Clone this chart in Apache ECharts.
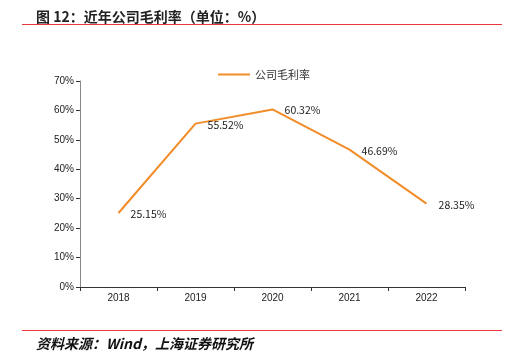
<!DOCTYPE html>
<html><head><meta charset="utf-8">
<script src="https://cdn.jsdelivr.net/npm/echarts@6/dist/echarts.min.js"></script>
<style>html,body{margin:0;padding:0;background:#fff}#c{width:513px;height:358px}</style>
</head><body><div id="c"></div>
<script>
var categories = ['2018','2019','2020','2021','2022'];
var grossMargin = [25.15, 55.52, 60.32, 46.69, 28.35];
var seriesName = '公司毛利率';
var titleText = '图 12：近年公司毛利率（单位：%）';
var sourceText = '资料来源：Wind，上海证券研究所';

var chart = echarts.init(document.getElementById('c'), null, {renderer:'canvas'});
chart.setOption({
  animation:false,
  backgroundColor:'#fff',
  title:[
    {text:titleText,left:31,top:5,textStyle:{fontSize:14,fontWeight:'bold',color:'#222',fontFamily:'Noto Sans CJK SC'}},
    {text:sourceText,left:31,top:332,textStyle:{fontSize:14,fontWeight:'bold',fontStyle:'italic',color:'#111',fontFamily:'Noto Sans CJK SC'}}
  ],
  graphic:[
    {type:'line',shape:{x1:22,y1:24.5,x2:502,y2:24.5},style:{stroke:'#e8383d',lineWidth:1}},
    {type:'line',shape:{x1:22,y1:330.5,x2:502,y2:330.5},style:{stroke:'#e8383d',lineWidth:1}}
  ],
  legend:{top:64,left:213,itemWidth:32,itemHeight:2,itemGap:6,icon:'rect',
    textStyle:{fontSize:11,color:'#333',fontFamily:'Noto Sans CJK SC'},data:[seriesName]},
  grid:{left:80,right:48,top:81,bottom:71},
  xAxis:{type:'category',data:categories,boundaryGap:true,
    axisLine:{lineStyle:{color:'#333',width:1}},
    axisTick:{show:true,alignWithLabel:false,length:4,lineStyle:{color:'#333'}},
    axisLabel:{fontSize:10,color:'#222',margin:6,fontFamily:'Liberation Sans'}},
  yAxis:{type:'value',min:0,max:70,interval:10,
    axisLine:{show:true,lineStyle:{color:'#888',width:1}},
    axisTick:{show:true,length:4,lineStyle:{color:'#333'}},
    splitLine:{show:false},
    axisLabel:{fontSize:10,color:'#222',margin:6,formatter:'{value}%',fontFamily:'Liberation Sans'}},
  series:[{name:seriesName,type:'line',data:grossMargin,symbol:'circle',symbolSize:0.1,showSymbol:true,
    lineStyle:{color:'#f28c28',width:2},itemStyle:{color:'#f28c28'},
    label:{show:true,position:'right',distance:12,offset:[0,1],fontSize:10.5,color:'#222',
      fontFamily:'Noto Sans CJK SC',formatter:function(p){return p.value.toFixed(2)+'%';}}}]
});
</script></body></html>
